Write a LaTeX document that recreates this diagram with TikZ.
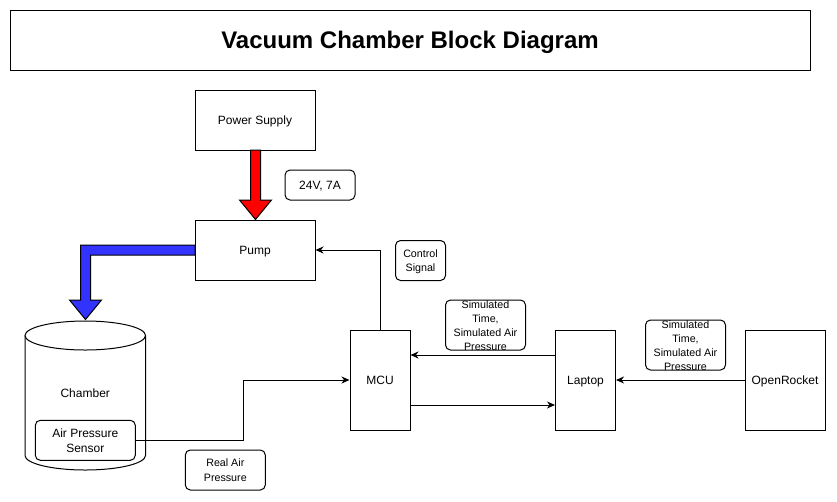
\documentclass[tikz,border=0pt]{standalone}
\usepackage{fontspec}
\setmainfont{Liberation Sans}
\usetikzlibrary{arrows.meta}
\definecolor{flowred}{RGB}{255,0,0}
\definecolor{flowblue}{RGB}{51,51,255}
\tikzset{
  box/.style={draw, line width=1pt, inner sep=0pt, align=center, text depth=0pt, font=\fontsize{12}{15}\selectfont},
  lbl/.style={draw, line width=1pt, rounded corners=5pt, inner sep=0pt, align=center, text depth=0pt, font=\fontsize{10.7}{14.5}\selectfont},
  smalltxt/.style={inner sep=0pt, align=center, text depth=0pt, font=\fontsize{10.7}{14}\selectfont},
  arr/.style={line width=1pt, -{Stealth[length=8pt,width=7pt,inset=2.5pt]}},
  blockarrow/.style={draw, line width=1pt, line join=miter}
}
\begin{document}
\begin{tikzpicture}[x=1pt,y=-1pt]
\useasboundingbox (0,0) rectangle (837,501);

% title
\node[box, minimum width=800pt, minimum height=60pt, text depth=-3pt, font=\bfseries\fontsize{24}{29}\selectfont] (title) at (410,40) {Vacuum Chamber Block Diagram};

% blocks
\node[box, minimum width=120pt, minimum height=60pt] (power) at (255,120) {Power Supply};
\node[box, minimum width=120pt, minimum height=60pt] (pump) at (255,250) {Pump};
\node[box, minimum width=60pt, minimum height=100pt] (mcu) at (380,380) {MCU};
\node[box, minimum width=60pt, minimum height=100pt] (laptop) at (585.5,380) {Laptop};
\node[box, minimum width=80pt, minimum height=100pt] (openrocket) at (785,380) {OpenRocket};

% labels
\node[lbl, minimum width=70pt, minimum height=30pt, font=\fontsize{12}{15}\selectfont] (v24) at (320,185) {24V, 7A};
\node[lbl, minimum width=50pt, minimum height=40pt] (ctrl) at (420.5,260.5) {Control\\Signal};
\node[lbl, minimum width=80pt, minimum height=50pt] (sim1) at (485.5,325) {};
\node[smalltxt] (sim1txt) at (485.5,326) {Simulated\\Time,\\Simulated Air\\Pressure};
\node[lbl, minimum width=80pt, minimum height=50pt] (sim2) at (685.5,345) {};
\node[smalltxt] (sim2txt) at (685.5,346) {Simulated\\Time,\\Simulated Air\\Pressure};
\node[lbl, minimum width=80pt, minimum height=40pt] (real) at (225.3,470) {Real Air\\Pressure};

% red power arrow
\draw[blockarrow, fill=flowred] (250.5,150) -- (250.5,200) -- (239.5,200) -- (255.5,219.5)
  -- (271.5,200) -- (260.5,200) -- (260.5,150) -- cycle;

% blue flow arrow
\draw[blockarrow, fill=flowblue] (195,245) -- (80.5,245) -- (80.5,300) -- (69.5,300) -- (85.5,319.5)
  -- (101.5,300) -- (90.5,300) -- (90.5,255) -- (195,255) -- cycle;

% chamber cylinder
\draw[line width=1pt, fill=white] (25,335.5) -- (25,455.5)
  .. controls (25,463.5) and (51.97,470) .. (85.25,470)
  .. controls (118.53,470) and (145.5,463.5) .. (145.5,455.5) -- (145.5,335.5);
\draw[line width=1pt, fill=white] (85.25,335.5) ellipse [x radius=60.25, y radius=14.5];
\node[inner sep=0pt, text depth=0pt, font=\fontsize{12}{15}\selectfont] (chamber) at (85.25,393) {Chamber};
\node[box, rounded corners=5pt, minimum width=100pt, minimum height=40pt] (sensor) at (85.3,440.3) {Air Pressure\\Sensor};

% connectors
\draw[arr] (sensor.east) -- ++(108,0) |- (mcu.west);
\draw[arr] (mcu.north) |- (pump.east);
\draw[arr] ([yshift=25pt]laptop.west) -- ([yshift=25pt]mcu.east);
\draw[arr] ([yshift=-25pt]mcu.east) -- ([yshift=-25pt]laptop.west);
\draw[arr] (openrocket.west) -- (laptop.east);
\end{tikzpicture}
\end{document}
